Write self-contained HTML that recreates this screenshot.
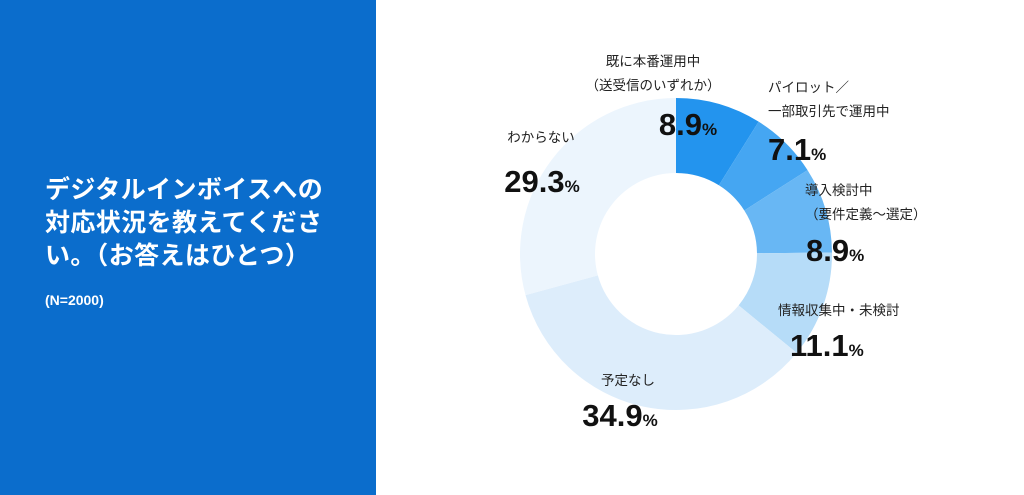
<!DOCTYPE html>
<html><head><meta charset="utf-8"><style>
body{margin:0;width:1024px;height:495px;overflow:hidden;background:#fff;font-family:"Liberation Sans","Noto Sans CJK JP",sans-serif}
#panel{position:absolute;left:0;top:0;width:376px;height:495px;background:#0b6dcc}
#title{position:absolute;left:45px;top:172px;color:#fff;font-size:25px;font-weight:bold;line-height:33px;letter-spacing:0.4px;font-family:"Noto Sans CJK JP",sans-serif;white-space:nowrap}
#n{position:absolute;left:45px;top:292px;color:#fff;font-size:14px;font-weight:bold}
svg{position:absolute;left:0;top:0}
.lb{font-size:13.5px;fill:#222;font-family:"Noto Sans CJK JP",sans-serif}
.pv{font-size:31px;font-weight:bold;fill:#111;font-family:"Liberation Sans",sans-serif}
.pc{font-size:17px;font-weight:bold}
</style></head><body>
<div id="panel">
<div id="title">デジタルインボイスへの<br>対応状況を教えてくださ<br>い。（お答えはひとつ）</div>
<div id="n">(N=2000)</div>
</div>
<svg width="1024" height="495" id="chart"></svg>
<script>
const categories=["既に本番運用中(送受信のいずれか)","パイロット/一部取引先で運用中","導入検討中(要件定義〜選定)","情報収集中・未検討","予定なし","わからない"];
const values=[8.9,7.1,8.9,11.1,34.9,29.3];
const valueLabels=["8.9","7.1","8.9","11.1","34.9","29.3"];
const colors=["#2394ee","#45a6f2","#68b7f4","#b6dcf8","#ddedfb","#ecf5fd"];
const labelLines=[["既に本番運用中","（送受信のいずれか）"],["パイロット／","一部取引先で運用中"],["導入検討中","（要件定義〜選定）"],["情報収集中・未検討"],["予定なし"],["わからない"]];
const labelPos=[[653,66,"middle",688,135],[768,92,"start",768,160],[805,195,"start",806,261],[778,315,"start",790,356],[628,385,"middle",620,426],[541,142,"middle",542,192]];
const svg=document.getElementById('chart');
const NS="http://www.w3.org/2000/svg";
const cx=676,cy=254,R=156,r=81;
const total=values.reduce((a,b)=>a+b,0);
let a0=0;
function pt(a,rad){return [cx+rad*Math.sin(a),cy-rad*Math.cos(a)];}
values.forEach((v,i)=>{
 const a1=a0+v/total*2*Math.PI;
 const [x1,y1]=pt(a0,R),[x2,y2]=pt(a1,R),[x3,y3]=pt(a1,r),[x4,y4]=pt(a0,r);
 const lg=(a1-a0)>Math.PI?1:0;
 const p=document.createElementNS(NS,'path');
 p.setAttribute('d',`M${x1},${y1}A${R},${R} 0 ${lg} 1 ${x2},${y2}L${x3},${y3}A${r},${r} 0 ${lg} 0 ${x4},${y4}Z`);
 p.setAttribute('fill',colors[i]);
 
 
 svg.appendChild(p);
 a0=a1;
});
values.forEach((v,i)=>{
 const [lx,ly,anc,vx,vy]=labelPos[i];
 labelLines[i].forEach((s,j)=>{
  const t=document.createElementNS(NS,'text');
  t.setAttribute('x',lx);t.setAttribute('y',ly+j*24);
  t.setAttribute('text-anchor',anc);t.setAttribute('class','lb');
  t.textContent=s;
  
  
  svg.appendChild(t);
 });
 const t=document.createElementNS(NS,'text');
 t.setAttribute('x',vx);t.setAttribute('y',vy);
 t.setAttribute('text-anchor',anc==="middle"?"middle":"start");
 t.setAttribute('class','pv');
 t.innerHTML=valueLabels[i]+'<tspan class="pc">%</tspan>';
 
 
 svg.appendChild(t);
});
</script>
</body></html>
